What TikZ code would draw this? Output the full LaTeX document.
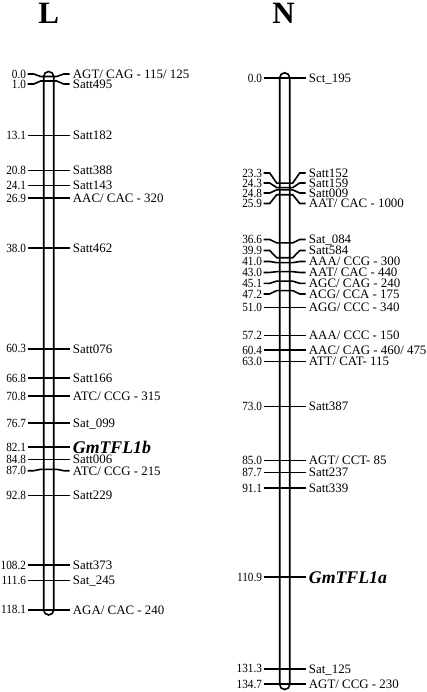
\documentclass[tikz,border=0pt]{standalone}
\usepackage{graphicx}
\usepackage{fontspec}
\setmainfont{Liberation Serif}
\newcounter{mkc}
\tikzset{
  tickline/.style={line width=1.6pt},
  barline/.style={line width=1.6pt, rounded corners=5pt},
  numlab/.style={inner sep=0pt, font=\fontsize{12.5}{12.5}\selectfont},
  mklab/.style={inner sep=0pt, font=\fontsize{12.9}{12.9}\selectfont},
  genelab/.style={inner sep=0pt, font=\fontsize{17.8}{17.8}\selectfont\bfseries\itshape},
  chrtitle/.style={inner sep=0pt, font=\fontsize{31}{31}\selectfont\bfseries},
}
% #1 centre x, #2 cM, #3 label shift (down, px), #4 number, #5 label
\newcommand\mymk[5]{%
  \stepcounter{mkc}%
  \pgfmathsetmacro\ya{-(\yz+\sc*#2)}%
  \pgfmathsetmacro\yb{\ya-(#3)}%
  \draw[tickline] (#1-21,\yb) -- (#1-15,\yb) -- (#1-8,\ya) -- (#1+8,\ya) -- (#1+15,\yb) -- (#1+21,\yb);
  \node[numlab, anchor=base east] (n\arabic{mkc}) at (#1-22.5,\yb-4.2) {\scalebox{0.9}[1]{#4}};
  \node[mklab, anchor=base west] (m\arabic{mkc}) at (#1+24,\yb-4.3) {#5};
}
\begin{document}
\begin{tikzpicture}[x=1pt,y=1pt]
\useasboundingbox (0,0) rectangle (427,-692);
\fill[white] (0,0) rectangle (427,-692);
% ---------- L ----------
\node[chrtitle, anchor=base] (tL) at (48.7,-23.5) {L};
\def\yz{76.5}\def\sc{4.515}
\draw[barline] (43.7,-71.5) rectangle (53.7,-615);
\mymk{48.7}{0.0}{-2.5}{0.0}{AGT/ CAG - 115/ 125}
\mymk{48.7}{1.0}{3}{1.0}{Satt495}
\mymk{48.7}{13.1}{0}{13.1}{Satt182}
\mymk{48.7}{20.8}{0}{20.8}{Satt388}
\mymk{48.7}{24.1}{0}{24.1}{Satt143}
\mymk{48.7}{26.9}{0}{26.9}{AAC/ CAC - 320}
\mymk{48.7}{38.0}{0}{38.0}{Satt462}
\mymk{48.7}{60.3}{0}{60.3}{Satt076}
\mymk{48.7}{66.8}{0}{66.8}{Satt166}
\mymk{48.7}{70.8}{0}{70.8}{ATC/ CCG - 315}
\mymk{48.7}{76.7}{0}{76.7}{Sat\_099}
\mymk{48.7}{82.1}{0}{82.1}{}
\node[genelab, anchor=base west] (gL) at (48.7+24,-\yz-\sc*82.1-6) {GmTFL1b};
\mymk{48.7}{84.8}{0}{84.8}{Satt006}
\mymk{48.7}{87.0}{1.4}{87.0}{ATC/ CCG - 215}
\mymk{48.7}{92.8}{0}{92.8}{Satt229}
\mymk{48.7}{108.2}{0}{108.2}{Satt373}
\mymk{48.7}{111.6}{0}{111.6}{Sat\_245}
\mymk{48.7}{118.1}{0}{118.1}{AGA/ CAC - 240}
% ---------- N ----------
\node[chrtitle, anchor=base] (tN) at (283.5,-23.5) {N};
\def\yz{78.3}\def\sc{4.497}
\draw[barline] (279.7,-72.8) rectangle (289.7,-689.5);
\mymk{284.7}{0.0}{0}{0.0}{Sct\_195}
\mymk{284.7}{23.3}{-10.1}{23.3}{Satt152}
\mymk{284.7}{24.3}{-4.6}{24.3}{Satt159}
\mymk{284.7}{24.8}{3.2}{24.8}{Satt009}
\mymk{284.7}{25.9}{8.7}{25.9}{AAT/ CAC - 1000}
\mymk{284.7}{36.6}{-3.4}{36.6}{Sat\_084}
\mymk{284.7}{39.9}{-7.2}{39.9}{Satt584}
\mymk{284.7}{41.0}{-1.2}{41.0}{AAA/ CCG - 300}
\mymk{284.7}{43.0}{0.8}{43.0}{AAT/ CAC - 440}
\mymk{284.7}{45.1}{2.2}{45.1}{AGC/ CAG - 240}
\mymk{284.7}{47.2}{3.4}{47.2}{ACG/ CCA - 175}
\mymk{284.7}{51.0}{0}{51.0}{AGG/ CCC - 340}
\mymk{284.7}{57.2}{0}{57.2}{AAA/ CCC - 150}
\mymk{284.7}{60.4}{0}{60.4}{AAC/ CAG - 460/ 475}
\mymk{284.7}{63.0}{0}{63.0}{ATT/ CAT- 115}
\mymk{284.7}{73.0}{0}{73.0}{Satt387}
\mymk{284.7}{85.0}{0}{85.0}{AGT/ CCT- 85}
\mymk{284.7}{87.7}{0}{87.7}{Satt237}
\mymk{284.7}{91.1}{0}{91.1}{Satt339}
\mymk{284.7}{110.9}{0}{110.9}{}
\node[genelab, anchor=base west] (gN) at (284.7+24,-\yz-\sc*110.9-6) {GmTFL1a};
\mymk{284.7}{131.3}{0}{131.3}{Sat\_125}
\mymk{284.7}{134.7}{0}{134.7}{AGT/ CCG - 230}
\end{tikzpicture}
\end{document}
